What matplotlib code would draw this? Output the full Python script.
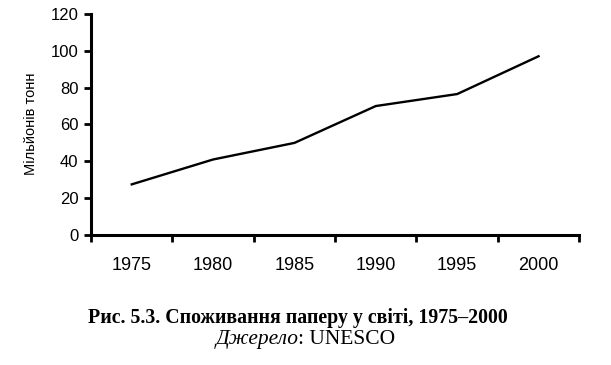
import numpy as np
import matplotlib.pyplot as plt

years = ['1975', '1980', '1985', '1990', '1995', '2000']
consumption = [27.5, 41, 50, 70, 76.5, 97]
y_ticks = [0, 20, 40, 60, 80, 100, 120]

fig = plt.figure(figsize=(6.11, 3.65), dpi=100)
ax = fig.add_axes([0.149, 0.356, 0.799, 0.606])

x = np.arange(len(years))
ax.plot(x, consumption, color='black', linewidth=1.7, solid_joinstyle='miter')

ax.set_xlim(-0.5, len(years) - 0.5)
ax.set_ylim(0, 120)
ax.set_yticks(y_ticks)
ax.set_xticks(x)
ax.set_xticklabels(years)
ax.set_xticks(np.arange(-0.5, len(years)), minor=True)

ax.tick_params(axis='x', which='major', length=0, pad=16,
               labelsize=13, labelfontfamily='Liberation Sans')
ax.tick_params(axis='x', which='minor', length=5, width=2, direction='out')
ax.tick_params(axis='y', length=5, width=2, pad=4,
               labelsize=12, labelfontfamily='Liberation Sans')

for side in ['top', 'right']:
    ax.spines[side].set_visible(False)
for side in ['left', 'bottom']:
    ax.spines[side].set_linewidth(2.2)

ax.set_ylabel('Мільйонів тонн', fontsize=10.5, family='Liberation Sans')
ax.yaxis.set_label_coords(-0.109, 0.505)

fig.text(0.487, 0.13, 'Рис. 5.3. Споживання паперу у світі, 1975–2000',
         ha='center', va='center', fontsize=14.3, fontweight='bold',
         family='Liberation Serif')
fig.text(0.4885, 0.071, 'Джерело', ha='right', va='center', fontsize=15.5,
         style='italic', family='Liberation Serif')
fig.text(0.4885, 0.071, ': UNESCO', ha='left', va='center', fontsize=15.5,
         family='Liberation Serif')

plt.savefig('out.png', dpi=100)
plt.close()
